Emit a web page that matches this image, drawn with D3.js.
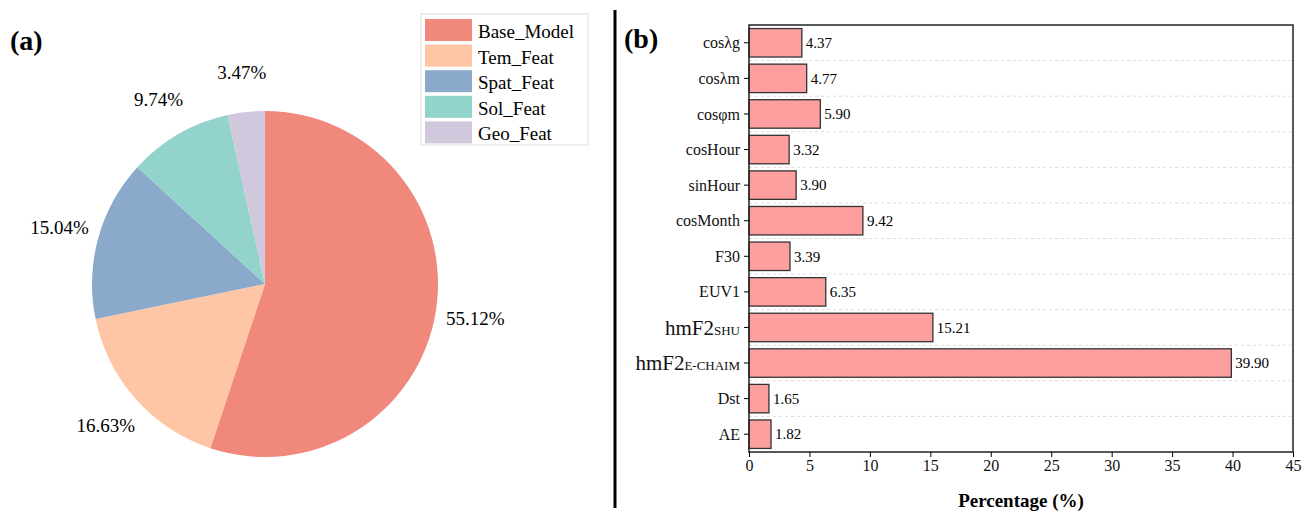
<!DOCTYPE html>
<html><head><meta charset="utf-8">
<script src="https://cdn.jsdelivr.net/npm/d3@7"></script>
<style>body{margin:0;background:#fff}text{font-family:"Liberation Serif","Times New Roman",serif}</style>
</head><body>
<svg id="c" width="1311" height="518"></svg>
<script>
const pieNames = ["Base_Model", "Tem_Feat", "Spat_Feat", "Sol_Feat", "Geo_Feat"];
const pieValues = [55.12, 16.63, 15.04, 9.74, 3.47];
const pieColors = ["#f0887c", "#fec6a5", "#8ba9cb", "#92d4cb", "#d2c8dd"];
const barNames = ["cosλg", "cosλm", "cosφm", "cosHour", "sinHour", "cosMonth", "F30", "EUV1", "hmF2|SHU", "hmF2|E-CHAIM", "Dst", "AE"];
const barValues = [4.37, 4.77, 5.90, 3.32, 3.90, 9.42, 3.39, 6.35, 15.21, 39.90, 1.65, 1.82];
const xTicks = [0, 5, 10, 15, 20, 25, 30, 35, 40, 45];

const svg = d3.select("#c");

// (a) pie
const cx = 265, cy = 284, r = 173;
const pie = d3.pie().sort(null).value(d => d)(pieValues);
const arc = d3.arc().innerRadius(0).outerRadius(r);
const lab = d3.arc().innerRadius(r + 40).outerRadius(r + 40);
const g = svg.append("g").attr("transform", `translate(${cx},${cy})`);
g.selectAll("path").data(pie).enter().append("path")
  .attr("d", arc).attr("fill", (d, i) => pieColors[i]);
g.selectAll("text").data(pie).enter().append("text")
  .attr("transform", d => `translate(${lab.centroid(d)})`)
  .attr("text-anchor", "middle").attr("dy", "0.35em").attr("font-size", 19)
  .text(d => d.data.toFixed(2) + "%");
svg.append("text").attr("x", 10).attr("y", 50).attr("font-size", 28).attr("font-weight", "bold").text("(a)");

// legend
const lg = svg.append("g").attr("transform", "translate(421,14)");
lg.append("rect").attr("width", 167).attr("height", 131).attr("fill", "#fff").attr("stroke", "#ddd");
pieNames.forEach((n, i) => {
  lg.append("rect").attr("x", 4).attr("y", 5 + i * 25.6).attr("width", 47).attr("height", 22).attr("fill", pieColors[i]);
  lg.append("text").attr("x", 57).attr("y", 24 + i * 25.6).attr("font-size", 19).text(n);
});

// divider
svg.append("line").attr("x1", 615).attr("x2", 615).attr("y1", 10).attr("y2", 508).attr("stroke", "#000").attr("stroke-width", 3);
svg.append("text").attr("x", 624).attr("y", 48).attr("font-size", 28).attr("font-weight", "bold").text("(b)");

// (b) bars
const L = 749, R = 1293, T = 25, B = 452;
const x = d3.scaleLinear().domain([0, 45]).range([L, R]);
const y = d3.scaleBand().domain(barNames).range([T, B]).paddingInner(0.2).paddingOuter(0.1);
const step = y.step();
barNames.slice(1).forEach(n => {
  svg.append("line").attr("x1", L).attr("x2", R)
    .attr("y1", y(n) - step * 0.1).attr("y2", y(n) - step * 0.1)
    .attr("stroke", "#ddd").attr("stroke-dasharray", "3,3");
});
svg.append("g").selectAll("rect").data(barValues).enter().append("rect")
  .attr("x", L).attr("y", (d, i) => y(barNames[i]))
  .attr("width", d => x(d) - L).attr("height", y.bandwidth())
  .attr("fill", "#fe9f9f").attr("stroke", "#333").attr("stroke-width", 1.3);
svg.append("g").selectAll("text").data(barValues).enter().append("text")
  .attr("x", d => x(d) + 4).attr("y", (d, i) => y(barNames[i]) + y.bandwidth() / 2)
  .attr("dy", "0.35em").attr("font-size", 15).text(d => d.toFixed(2));
svg.append("rect").attr("x", L).attr("y", T).attr("width", R - L).attr("height", B - T)
  .attr("fill", "none").attr("stroke", "#222").attr("stroke-width", 1.5);

const ya = svg.append("g").attr("transform", `translate(${L},0)`).call(d3.axisLeft(y).tickSize(5).tickFormat(""));
ya.select(".domain").remove();
ya.selectAll(".tick").each(function (n) {
  const t = d3.select(this).append("text").attr("x", -9).attr("dy", "0.35em")
    .attr("text-anchor", "end").attr("fill", "#111");
  const parts = n.split("|");
  if (parts.length > 1) {
    t.attr("font-size", 21);
    t.append("tspan").text(parts[0]);
    t.append("tspan").attr("font-size", 13).text(parts[1]);
  } else {
    t.attr("font-size", 16).text(n);
  }
});
const xa = svg.append("g").attr("transform", `translate(0,${B})`).call(d3.axisBottom(x).tickValues(xTicks).tickSize(5));
xa.select(".domain").remove();
xa.selectAll("text").attr("font-size", 16).attr("fill", "#111").attr("font-family", "Liberation Serif");
svg.append("text").attr("x", (L + R) / 2).attr("y", 507).attr("text-anchor", "middle")
  .attr("font-size", 19).attr("font-weight", "bold").text("Percentage (%)");
</script>
</body></html>
